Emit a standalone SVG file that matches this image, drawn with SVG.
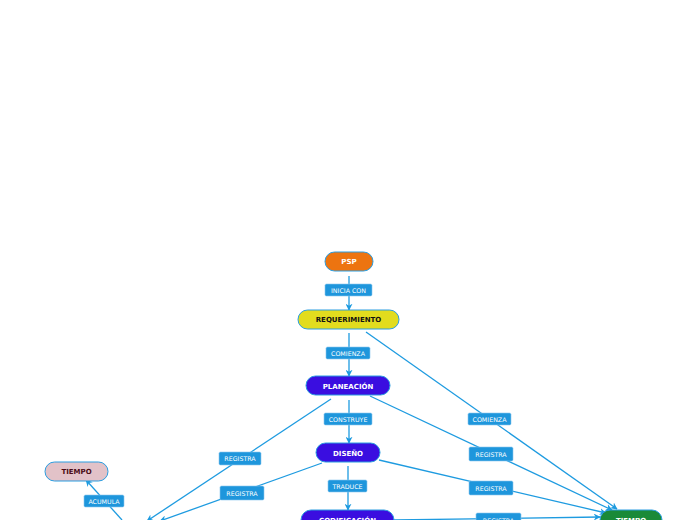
<svg xmlns="http://www.w3.org/2000/svg" width="696" height="520" viewBox="0 0 696 520">
<style>
.n{stroke:#2a9de0;stroke-width:1}
.nt{font-family:"DejaVu Sans",Verdana,sans-serif;font-weight:bold;font-size:7px;text-anchor:middle}
.c{stroke:#1e9be0;stroke-width:1.3;fill:none;marker-end:url(#a)}
.lb{fill:#1e96dc;stroke:#8cc8ee;stroke-width:0.6}
.lt{font-family:"DejaVu Sans",Verdana,sans-serif;font-size:6.3px;fill:#ffffff;text-anchor:middle}
</style>
<defs>
<marker id="a" viewBox="0 0 10 10" refX="9" refY="5" markerWidth="7" markerHeight="7" markerUnits="userSpaceOnUse" orient="auto">
<path d="M0,0 L10,5 L0,10 L3,5 Z" fill="#1e9be0"/>
</marker>
</defs>
<rect width="696" height="520" fill="#ffffff"/>
<g id="connectors">
<line class="c" x1="349" y1="276" x2="349" y2="310"/>
<line class="c" x1="349" y1="333" x2="349" y2="376"/>
<line class="c" x1="349" y1="400" x2="349" y2="443"/>
<line class="c" x1="348" y1="466" x2="348" y2="510"/>
<line class="c" x1="366" y1="332" x2="617" y2="509"/>
<line class="c" x1="370" y1="396" x2="612" y2="510"/>
<line class="c" x1="379" y1="460" x2="606" y2="513"/>
<line class="c" x1="394" y1="520" x2="600" y2="517"/>
<line class="c" x1="331" y1="399" x2="147" y2="521"/>
<line class="c" x1="322" y1="463" x2="160" y2="521"/>
<line class="c" x1="122" y1="520" x2="86" y2="480"/>
<g>
<rect class="lb" x="325" y="284" width="47" height="12" rx="1.5"/><text class="lt" x="348.5" y="292.5">INICIA CON</text>
<rect class="lb" x="326" y="347" width="44" height="12" rx="1.5"/><text class="lt" x="348" y="355.5">COMIENZA</text>
<rect class="lb" x="324" y="413" width="48" height="12" rx="1.5"/><text class="lt" x="348" y="421.5">CONSTRUYE</text>
<rect class="lb" x="328" y="480" width="39" height="12" rx="1.5"/><text class="lt" x="347.5" y="488.5">TRADUCE</text>
<rect class="lb" x="468" y="413" width="43" height="12" rx="1.5"/><text class="lt" x="489.5" y="421.5">COMIENZA</text>
<rect class="lb" x="469" y="447" width="44" height="14" rx="1.5"/><text class="lt" x="491" y="456.5">REGISTRA</text>
<rect class="lb" x="469" y="481" width="44" height="14" rx="1.5"/><text class="lt" x="491" y="490.5">REGISTRA</text>
<rect class="lb" x="476" y="513" width="45" height="14" rx="1.5"/><text class="lt" x="498.5" y="522.5">REGISTRA</text>
<rect class="lb" x="219" y="452" width="42" height="13" rx="1.5"/><text class="lt" x="240" y="461">REGISTRA</text>
<rect class="lb" x="220" y="486" width="44" height="14" rx="1.5"/><text class="lt" x="242" y="495.5">REGISTRA</text>
<rect class="lb" x="84" y="495" width="40" height="12" rx="1.5"/><text class="lt" x="104" y="503.5">ACUMULA</text>
</g>
</g>
<g id="psp"><rect class="n" x="325" y="252" width="48" height="19" rx="9.5" fill="#ed7410"/><text class="nt" x="349" y="264" fill="#ffffff">PSP</text></g>
<g id="requerimiento"><rect class="n" x="298" y="310" width="101" height="19" rx="9.5" fill="#e2dc1e"/><text class="nt" x="348.5" y="322" fill="#111111">REQUERIMIENTO</text></g>
<g id="planeacion"><rect class="n" x="306" y="376" width="84" height="19" rx="9.5" fill="#3a0ee0"/><text class="nt" x="348" y="388.5" fill="#ffffff">PLANEACIÓN</text></g>
<g id="diseno"><rect class="n" x="316" y="443" width="64" height="19" rx="9.5" fill="#3a0ee0"/><text class="nt" x="348" y="455.5" fill="#ffffff">DISEÑO</text></g>
<g id="codificacion"><rect class="n" x="301" y="510" width="93" height="20" rx="10" fill="#3a0ee0"/><text class="nt" x="347.5" y="522.5" fill="#ffffff">CODIFICACIÓN</text></g>
<g id="tiempo1"><rect class="n" x="45" y="462" width="63" height="19" rx="9.5" fill="#e2c2c8"/><text class="nt" x="76.5" y="474" fill="#4a0a14">TIEMPO</text></g>
<g id="tiempo2"><rect class="n" x="600" y="510" width="62" height="20" rx="10" fill="#1a8a38"/><text class="nt" x="631" y="522.5" fill="#ffffff">TIEMPO</text></g>
</svg>
